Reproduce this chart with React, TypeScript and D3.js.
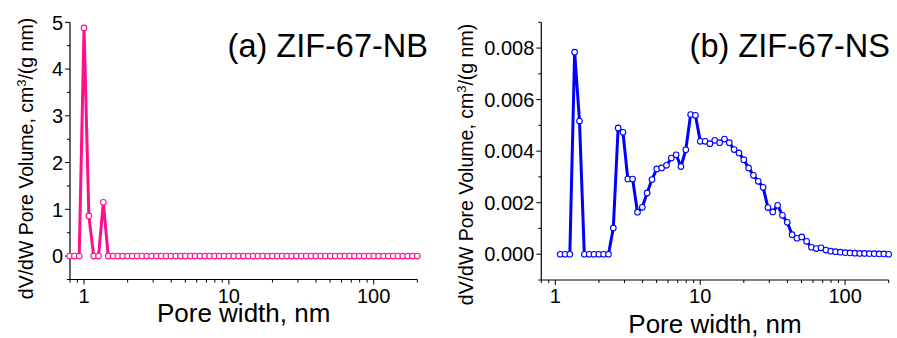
import React from "react";
import * as d3 from "d3";

// pore widths (nm) shared by both samples
const poreWidth = [
    0.794, 0.858, 0.926, 1.000, 1.080, 1.166, 1.259, 1.359, 1.468, 1.585,
    1.712, 1.848, 1.996, 2.155, 2.327, 2.513, 2.713, 2.930, 3.164, 3.416,
    3.689, 3.983, 4.301, 4.644, 5.016, 5.416, 5.848, 6.315, 6.819, 7.363,
    7.951, 8.586, 9.271, 10.01, 10.81, 11.67, 12.60, 13.61, 14.70, 15.87,
    17.14, 18.51, 19.98, 21.58, 23.30, 25.16, 27.17, 29.34, 31.68, 34.21,
    36.94, 39.88, 43.07, 46.51, 50.22, 54.23, 58.55, 63.23, 68.27, 73.72,
    79.60, 85.96, 92.82, 100.2, 108.2, 116.9, 126.2, 136.3, 147.1, 158.9,
    171.6, 185.3, 200.0,
];

// (a) ZIF-67-NB
const nbVolume = [
    0, 0, 0, 4.88, 0.86, 0, 0, 1.15, 0, 0,
    0, 0, 0, 0, 0, 0, 0, 0, 0, 0,
    0, 0, 0, 0, 0, 0, 0, 0, 0, 0,
    0, 0, 0, 0, 0, 0, 0, 0, 0, 0,
    0, 0, 0, 0, 0, 0, 0, 0, 0, 0,
    0, 0, 0, 0, 0, 0, 0, 0, 0, 0,
    0, 0, 0, 0, 0, 0, 0, 0, 0, 0,
    0, 0, 0,
];

// (b) ZIF-67-NS, starts at 1.08 nm
const nsWidth = poreWidth.slice(4);
const nsVolume = [
    0, 0, 0, 0.00784, 0.00517, 0, 0, 0, 0, 0,
    0, 0.00102, 0.00490, 0.00473, 0.00292, 0.00292, 0.00163, 0.00182, 0.00238, 0.00290,
    0.00331, 0.00335, 0.00345, 0.00373, 0.00386, 0.00340, 0.00405, 0.00542, 0.00539, 0.00438,
    0.00438, 0.00429, 0.00442, 0.00433, 0.00447, 0.00433, 0.00406, 0.00393, 0.00367, 0.00335,
    0.00306, 0.00283, 0.00260, 0.00181, 0.00164, 0.00190, 0.00151, 0.00124, 0.00076, 0.00062,
    0.00067, 0.00050, 0.00027, 0.00022, 0.00025, 0.00016, 0.00012, 0.00010, 0.00008, 0.00006,
    0.00005, 0.00004, 0.00003, 0.00003, 0.00002, 0.00002, 0.00001, 0.00001, 0,
];

const xMajor = [1, 10, 100];
const xMinor = [0.8, 0.9, 2, 3, 4, 5, 6, 7, 8, 9, 20, 30, 40, 50, 60, 70, 80, 90, 200];
const nbTicks = [0, 1, 2, 3, 4, 5];
const nbMinor = [-0.5, 0.5, 1.5, 2.5, 3.5, 4.5];
const nsTicks = [0, 0.002, 0.004, 0.006, 0.008];
const nsMinor = [-0.001, 0.001, 0.003, 0.005, 0.007, 0.009];

const FONT = "'Liberation Sans', Arial, Helvetica, sans-serif";

interface PanelProps {
    xs: number[]
    ys: number[]
    color: string
    label: string
    labelEnd: number
    yDomain: [number, number]
    yRange: [number, number]
    xRange: [number, number]
    yTicks: number[]
    yMinor: number[]
    yFormat: (v: number) => string
    xTitleY: number
    yTitleX: number
    yTitleY: number
}

const Panel: React.FC<PanelProps> = ({xs, ys, color, label, labelEnd, yDomain, yRange, xRange, yTicks, yMinor, yFormat, xTitleY, yTitleX, yTitleY}) => {
    const x = d3.scaleLog().domain([0.8, 200]).range(xRange);
    const y = d3.scaleLinear().domain(yDomain).range(yRange);
    const pts = xs.map((w, i) => [w, ys[i]] as [number, number]);
    const line = d3.line<[number, number]>()
        .x(d => x(d[0]))
        .y(d => y(d[1]));
    const [x0, x1] = xRange;
    const yb = yRange[0];
    const xTitleX = (x0 + x1) / 2;

    return <g fontFamily={FONT}>
        {/* axes */}
        <line x1={x0} x2={x1} y1={yb} y2={yb} stroke="#000" strokeWidth={1.2}/>
        <line x1={x0} x2={x0} y1={yb} y2={yRange[1]} stroke="#000" strokeWidth={1.2}/>
        {xMajor.map(t => <g key={"xm" + t}>
            <line x1={x(t)} x2={x(t)} y1={yb} y2={yb + 5} stroke="#000"/>
            <text x={x(t)} y={303} textAnchor="middle" fontSize={20}>{t}</text>
        </g>)}
        {xMinor.map(t => <line key={"xn" + t} x1={x(t)} x2={x(t)} y1={yb} y2={yb + 3} stroke="#000"/>)}
        {yTicks.map(t => <g key={"ym" + t}>
            <line x1={x0 - 5} x2={x0} y1={y(t)} y2={y(t)} stroke="#000"/>
            <text x={x0 - 7} y={y(t)} dy="0.36em" textAnchor="end" fontSize={20}>{yFormat(t)}</text>
        </g>)}
        {yMinor.map(t => <line key={"yn" + t} x1={x0 - 3} x2={x0} y1={y(t)} y2={y(t)} stroke="#000"/>)}

        {/* data */}
        <path d={line(pts) ?? ""} fill="none" stroke={color} strokeWidth={3} strokeLinejoin="round"/>
        {pts.map((d, i) => <circle key={i} cx={x(d[0])} cy={y(d[1])} r={2.8}
                                   fill="#fff" stroke={color} strokeWidth={1.1}/>)}

        {/* titles */}
        <text x={labelEnd} y={57} textAnchor="end" fontSize={32.5}>{label}</text>
        <text x={xTitleX} y={xTitleY} textAnchor="middle" fontSize={26}>Pore width, nm</text>
        <text transform={`translate(${yTitleX},${yTitleY}) rotate(-90)`} textAnchor="middle" fontSize={19.5}>
            dV/dW Pore Volume, cm<tspan dy={-7} fontSize={13}>3</tspan><tspan dy={7}>/(g nm)</tspan>
        </text>
    </g>
}

const App: React.FC = () => {
    return <div style={{position: "absolute", left: 0, top: 0}}>
        <svg width={897} height={338} style={{display: "block", background: "#fff"}}>
            <Panel xs={poreWidth} ys={nbVolume} color="#ff0f8c" label="(a) ZIF-67-NB" labelEnd={428}
                   yDomain={[-0.5, 5]} yRange={[279.5, 22.3]} xRange={[70, 417.3]}
                   yTicks={nbTicks} yMinor={nbMinor} yFormat={d3.format("d")}
                   xTitleY={321.5} yTitleX={33} yTitleY={158.5}/>
            <Panel xs={nsWidth} ys={nsVolume} color="#0000ff" label="(b) ZIF-67-NS" labelEnd={890}
                   yDomain={[-0.001, 0.009]} yRange={[280, 22.3]} xRange={[541.3, 888.7]}
                   yTicks={nsTicks} yMinor={nsMinor} yFormat={d3.format(".3f")}
                   xTitleY={333} yTitleX={473} yTitleY={164.5}/>
        </svg>
    </div>
};

export default App;
